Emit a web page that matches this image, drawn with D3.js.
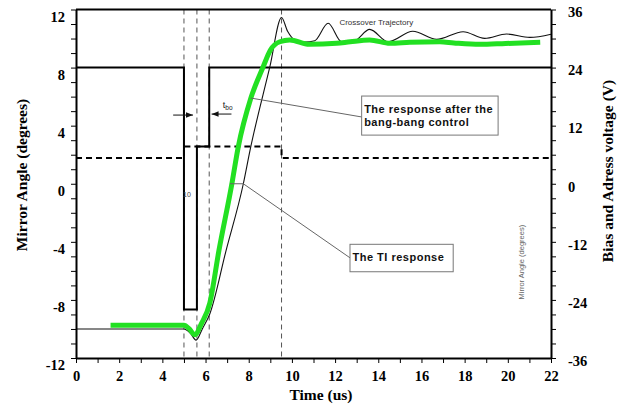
<!DOCTYPE html>
<html>
<head>
<meta charset="utf-8">
<script src="https://cdn.jsdelivr.net/npm/d3@7"></script>
<style>
  html, body { margin: 0; padding: 0; background: #fff; }
  svg { display: block; }
</style>
</head>
<body>
<script>
// time axis (us) and angle (degrees) of the TI (crossover) response
var tiTime = [0, 5.0, 5.3, 5.56, 5.85, 6.2, 6.95, 7.75, 8.06, 8.98, 9.52, 9.8, 10.14, 10.6, 11.06, 11.68, 12.3, 12.9, 13.6, 14.46, 15.6, 16.7, 17.93, 18.93, 19.94, 21.02, 22];
var tiAngle = [-10, -10, -10.3, -10.77, -10.0, -8.95, -4.6, 0, 2.3, 8.06, 11.45, 10.5, 9.9, 9.75, 9.85, 11.05, 9.78, 9.85, 10.63, 9.78, 10.5, 9.94, 10.47, 10.01, 10.31, 10.08, 10.3];

// response after the bang-bang control (green)
var bbTime = [1.6, 5.0, 5.25, 5.5, 5.82, 6.2, 6.62, 7.22, 7.51, 8.1, 8.67, 9.0, 9.44, 9.9, 10.8, 12.07, 12.7, 13.6, 14.54, 15.46, 16.85, 17.5, 18.7, 19.9, 21.5];
var bbAngle = [-9.75, -9.75, -10.0, -10.4, -9.6, -8.2, -4.6, 0, 2.5, 5.9, 8.06, 9.2, 9.78, 9.9, 9.6, 9.67, 9.78, 9.9, 9.67, 9.74, 9.78, 9.7, 9.6, 9.66, 9.74];

// bias voltage (solid step) and address voltage (dashed step), volts
var biasTime = [0, 5.0, 5.6, 6.17, 22];
var biasVolt = [24, -26, 7.7, 24, 24];
var addrTime = [0, 5.0, 9.52, 22];
var addrVolt = [5.3, 7.7, 5.3, 5.3];

// switching instants marked by dashed guides
var guideTimes = [5.0, 5.6, 6.17, 9.52];

var timeTicks = d3.range(0, 23, 1);
var angleTicks = d3.range(-12, 13, 1);
var voltTicks = d3.range(-36, 37, 3);

(function () {
  'use strict';
  var svg, x, yL, yR, serif, sans;

  serif = "'Liberation Serif', 'Times New Roman', serif";
  sans = "'Liberation Sans', Arial, sans-serif";

  svg = d3.select('body')
    .append('svg')
    .attr('width', 628)
    .attr('height', 409);

  x = d3.scaleLinear().domain([0, 22]).range([76, 551]);
  yL = d3.scaleLinear().domain([-12, 12]).range([358, 9.5]);
  yR = d3.scaleLinear().domain([-36, 36]).range([358, 9.5]);

  // dashed guides
  svg.selectAll('line.guide')
    .data(guideTimes)
    .enter()
    .append('line')
    .attr('class', 'guide')
    .attr('x1', function (d) { return x(d); })
    .attr('x2', function (d) { return x(d); })
    .attr('y1', yL(12))
    .attr('y2', yL(-12))
    .attr('stroke', '#555')
    .attr('stroke-width', 1)
    .attr('stroke-dasharray', '5,4');

  var stepLine = d3.line()
    .x(function (d) { return x(d[0]); })
    .y(function (d) { return yR(d[1]); })
    .curve(d3.curveStepAfter);

  svg.append('path')
    .datum(d3.zip(addrTime, addrVolt))
    .attr('d', stepLine)
    .attr('fill', 'none')
    .attr('stroke', '#000')
    .attr('stroke-width', 2)
    .attr('stroke-dasharray', '6,4');

  svg.append('path')
    .datum(d3.zip(biasTime, biasVolt))
    .attr('d', stepLine)
    .attr('fill', 'none')
    .attr('stroke', '#000')
    .attr('stroke-width', 2);

  var angleLine = d3.line()
    .x(function (d) { return x(d[0]); })
    .y(function (d) { return yL(d[1]); })
    .curve(d3.curveMonotoneX);

  svg.append('path')
    .datum(d3.zip(tiTime, tiAngle))
    .attr('d', angleLine)
    .attr('fill', 'none')
    .attr('stroke', '#111')
    .attr('stroke-width', 1.1);

  svg.append('path')
    .datum(d3.zip(bbTime, bbAngle))
    .attr('d', angleLine)
    .attr('fill', 'none')
    .attr('stroke', '#22e022')
    .attr('stroke-width', 5)
    .attr('stroke-linejoin', 'round');

  // leader lines
  var lead = svg.append('g')
    .attr('stroke', '#666')
    .attr('stroke-width', 1)
    .attr('fill', 'none');
  lead.append('path')
    .attr('d', 'M' + x(8.1) + ',' + yL(5.9) + 'L' + x(13.23) + ',' + yL(4.6));
  lead.append('path')
    .attr('d', 'M' + x(7.13) + ',' + yL(0) + 'L' + x(7.75) + ',' + yL(0) +
      'L' + x(12.69) + ',' + yL(-5.1));

  // annotation boxes
  function box(x0, y0, x1, y1, lines) {
    svg.append('rect')
      .attr('x', x(x0))
      .attr('y', yL(y0))
      .attr('width', x(x1) - x(x0))
      .attr('height', yL(y1) - yL(y0))
      .attr('fill', '#fff')
      .attr('stroke', '#777')
      .attr('stroke-width', 1);
    lines.forEach(function (t, i) {
      svg.append('text')
        .attr('x', x(x0) + 2.5)
        .attr('y', yL(y0) + 17 + i * 12.5)
        .attr('font-family', sans)
        .attr('font-weight', 'bold')
        .attr('font-size', '11px')
        .attr('letter-spacing', '0.5px')
        .attr('fill', '#111')
        .text(t);
    });
  }
  box(13.23, 6.04, 19.55, 3.35, ['The response after the', 'bang-bang control']);
  box(12.69, -4.17, 17.47, -6.06, ['The TI response']);

  svg.append('text')
    .attr('x', x(12.2))
    .attr('y', yL(10.95))
    .attr('font-family', sans)
    .attr('font-size', '8px')
    .attr('fill', '#333')
    .text('Crossover Trajectory');

  svg.append('text')
    .attr('transform', 'translate(' + (x(20.6) + 3) + ',' + yL(-5.4) + ') rotate(-90)')
    .attr('text-anchor', 'middle')
    .attr('font-family', sans)
    .attr('font-size', '7.5px')
    .attr('fill', '#666')
    .text('Mirror Angle (degrees)');

  svg.append('text')
    .attr('x', x(5.14))
    .attr('y', yL(-0.92))
    .attr('text-anchor', 'middle')
    .attr('font-family', sans)
    .attr('font-size', '7px')
    .attr('fill', '#444')
    .text('10');

  // t_bo arrows
  svg.append('defs').append('marker')
    .attr('id', 'ah')
    .attr('viewBox', '0 0 10 10')
    .attr('refX', 10)
    .attr('refY', 5)
    .attr('markerWidth', 7)
    .attr('markerHeight', 7)
    .attr('markerUnits', 'userSpaceOnUse')
    .attr('orient', 'auto')
    .append('path')
    .attr('d', 'M0,1L10,5L0,9Z')
    .attr('fill', '#111');

  svg.append('line')
    .attr('x1', x(4.5)).attr('x2', x(5.42))
    .attr('y1', yL(4.73)).attr('y2', yL(4.73))
    .attr('stroke', '#111').attr('stroke-width', 1)
    .attr('marker-end', 'url(#ah)');
  svg.append('line')
    .attr('x1', x(7.2)).attr('x2', x(6.28))
    .attr('y1', yL(4.8)).attr('y2', yL(4.8))
    .attr('stroke', '#111').attr('stroke-width', 1)
    .attr('marker-end', 'url(#ah)');

  var tbo = svg.append('text')
    .attr('x', x(6.8))
    .attr('y', yL(5.2))
    .attr('font-family', sans)
    .attr('font-size', '9px')
    .attr('fill', '#222');
  tbo.append('tspan').text('t');
  tbo.append('tspan').attr('font-size', '6.5px').attr('dy', 2).text('bo');

  // axes
  function styleAxis(g) {
    g.select('.domain').attr('stroke-width', 2);
    g.selectAll('.tick line').attr('stroke-width', 1);
    g.selectAll('.tick text')
      .attr('font-family', serif)
      .attr('font-weight', 'bold')
      .attr('font-size', '14.5px')
      .attr('fill', '#000');
  }

  var gl = svg.append('g')
    .attr('transform', 'translate(' + x(0) + ',0)')
    .call(d3.axisLeft(yL)
      .tickValues(angleTicks)
      .tickSize(5)
      .tickSizeOuter(0)
      .tickPadding(6)
      .tickFormat(function (d) { return d % 4 === 0 ? String(d) : ''; }));
  styleAxis(gl);
  gl.selectAll('.tick text').attr('dy', '0.8em');

  var gr = svg.append('g')
    .attr('transform', 'translate(' + x(22) + ',0)')
    .call(d3.axisRight(yR)
      .tickValues(voltTicks)
      .tickSize(5)
      .tickSizeOuter(0)
      .tickPadding(12)
      .tickFormat(function (d) { return d % 12 === 0 ? String(d) : ''; }));
  styleAxis(gr);
  gr.selectAll('.tick text').attr('dy', '0.5em');

  var gb = svg.append('g')
    .attr('transform', 'translate(0,' + yL(-12) + ')')
    .call(d3.axisBottom(x)
      .tickValues(timeTicks)
      .tickSize(5)
      .tickSizeOuter(0)
      .tickPadding(8)
      .tickFormat(function (d) { return d % 2 === 0 ? String(d) : ''; }));
  styleAxis(gb);

  svg.append('line')
    .attr('x1', x(0)).attr('x2', x(22))
    .attr('y1', yL(12)).attr('y2', yL(12))
    .attr('stroke', '#000')
    .attr('stroke-width', 2);

  // axis titles
  svg.append('text')
    .attr('x', 321)
    .attr('y', 400)
    .attr('text-anchor', 'middle')
    .attr('font-family', serif)
    .attr('font-weight', 'bold')
    .attr('font-size', '15.5px')
    .text('Time (us)');

  svg.append('text')
    .attr('transform', 'translate(27,175) rotate(-90)')
    .attr('text-anchor', 'middle')
    .attr('font-family', serif)
    .attr('font-weight', 'bold')
    .attr('font-size', '15.5px')
    .text('Mirror Angle (degrees)');

  svg.append('text')
    .attr('transform', 'translate(613,171) rotate(-90)')
    .attr('text-anchor', 'middle')
    .attr('font-family', serif)
    .attr('font-weight', 'bold')
    .attr('font-size', '15.5px')
    .text('Bias and Adress voltage (V)');
}());
</script>
</body>
</html>
